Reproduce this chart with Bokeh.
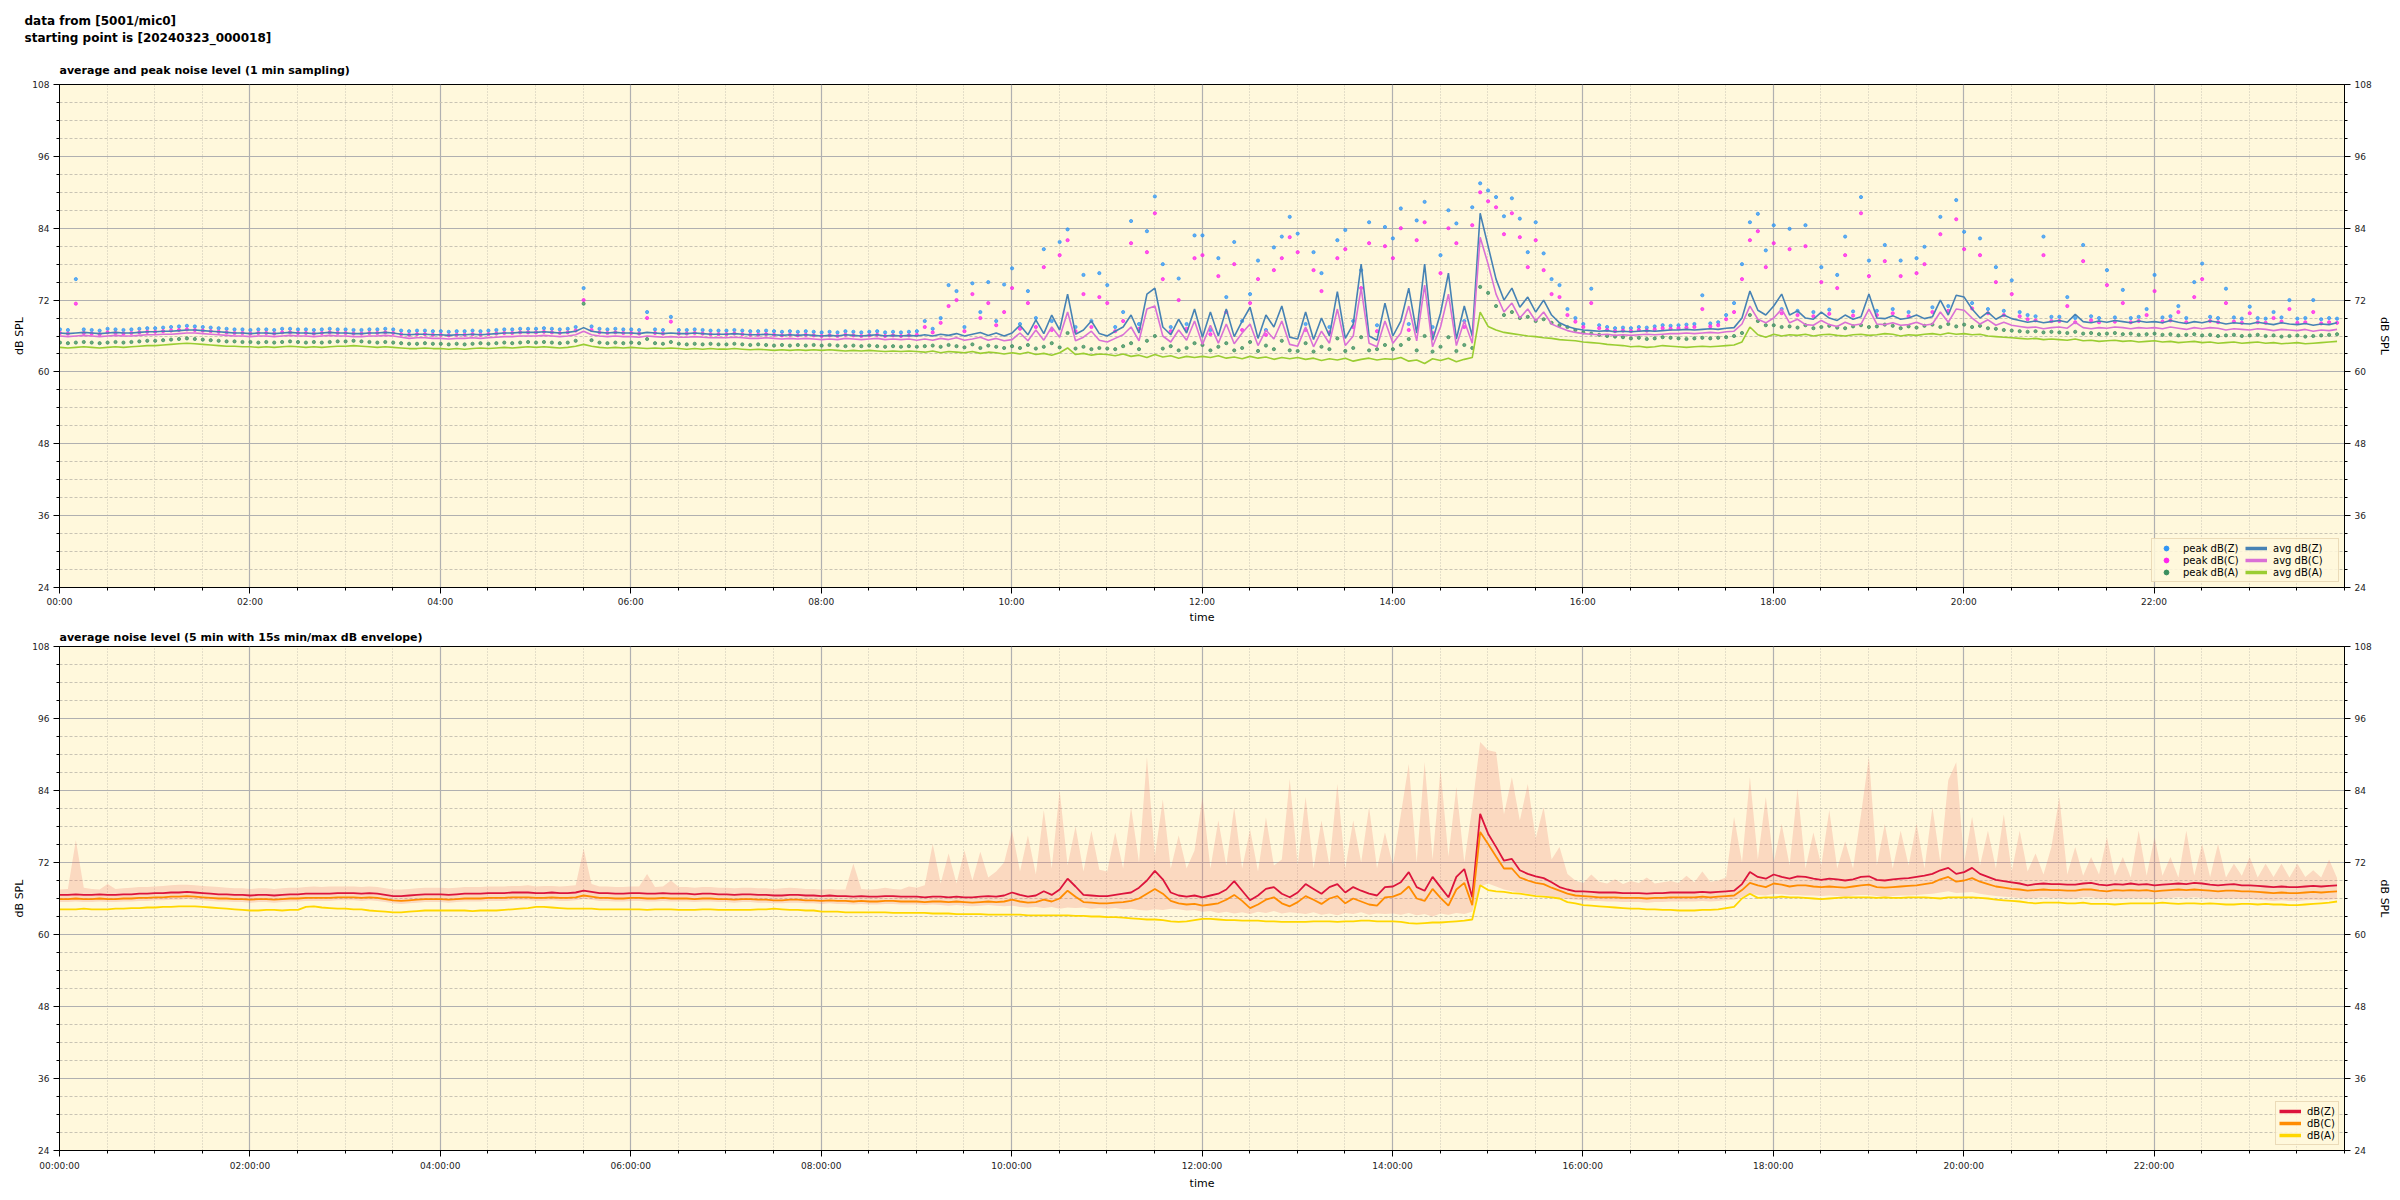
import numpy as np
from bokeh.plotting import figure
from bokeh.models import (FixedTicker, LinearAxis, Range1d, Title, Legend,
                          LegendItem)
from bokeh.layouts import column
from bokeh.embed import file_html
from bokeh.resources import INLINE

# ---------------- data (5-minute samples, 00:00:18 .. 23:55:18) ----------------
START_H = 18 / 3600.0
STEP_H = 5 / 60.0

SUPTITLE = "data from [5001/mic0]\nstarting point is [20240323_000018]"
TITLE_TOP = "average and peak noise level (1 min sampling)"
TITLE_BOTTOM = "average noise level (5 min with 15s min/max dB envelope)"

Y_TICKS = [24, 36, 48, 60, 72, 84, 96, 108]
X_TICKS_H = [0, 2, 4, 6, 8, 10, 12, 14, 16, 18, 20, 22]
X_LABELS_TOP = ["00:00", "02:00", "04:00", "06:00", "08:00", "10:00",
                "12:00", "14:00", "16:00", "18:00", "20:00", "22:00"]
X_LABELS_BOTTOM = ["00:00:00", "02:00:00", "04:00:00", "06:00:00", "08:00:00",
                   "10:00:00", "12:00:00", "14:00:00", "16:00:00", "18:00:00",
                   "20:00:00", "22:00:00"]

# top panel: 1-min averages / peaks (read at 5-min resolution)
avg_z = [
    66.5, 66.4, 66.5, 66.6, 66.5, 66.4, 66.5, 66.6, 66.5, 66.5, 66.6, 66.7,
    66.7, 66.8, 66.8, 66.9, 67.0, 67.0, 66.9, 66.8, 66.7, 66.6, 66.5, 66.5,
    66.4, 66.5, 66.5, 66.4, 66.5, 66.6, 66.5, 66.5, 66.4, 66.5, 66.6, 66.5,
    66.5, 66.4, 66.4, 66.5, 66.5, 66.6, 66.5, 66.3, 66.2, 66.3, 66.3, 66.2,
    66.2, 66.1, 66.2, 66.2, 66.3, 66.2, 66.3, 66.4, 66.5, 66.5, 66.6, 66.6,
    66.6, 66.7, 66.6, 66.5, 66.6, 66.8, 67.4, 66.8, 66.6, 66.5, 66.6, 66.5,
    66.5, 66.4, 66.6, 66.5, 66.4, 66.5, 66.4, 66.4, 66.5, 66.4, 66.3, 66.3,
    66.3, 66.4, 66.3, 66.2, 66.2, 66.3, 66.2, 66.1, 66.2, 66.1, 66.2, 66.1,
    66.0, 66.1, 66.0, 66.2, 66.1, 66.0, 66.1, 66.2, 66.0, 66.1, 66.0, 66.1,
    66.0, 66.2, 66.0, 66.3, 66.1, 66.4, 66.0, 66.3, 66.6, 66.1, 66.5, 66.0,
    66.5, 67.8, 66.2, 68.7, 66.4, 69.5, 67.0, 73.0, 66.3, 67.0, 68.5, 66.4,
    66.0, 66.8, 67.5, 69.5, 66.5, 73.0, 74.0, 67.5, 66.2, 68.8, 66.5, 70.5,
    65.8, 70.0, 66.0, 70.5, 65.9, 68.5, 70.8, 65.6, 69.5, 67.5, 71.0, 65.8,
    65.5, 70.0, 65.4, 69.0, 66.0, 73.4, 65.6, 68.0, 78.0, 66.0, 65.3, 71.5,
    66.0, 68.5, 74.0, 66.5, 78.0, 65.3, 69.8, 76.5, 65.5, 71.0, 66.0, 86.5,
    81.0, 75.5, 72.0, 74.0, 70.8, 72.5, 70.0, 72.0, 69.5, 68.2, 67.6, 67.2,
    67.0, 66.9, 66.8, 66.9, 66.7, 66.8, 66.7, 66.8, 66.9, 66.8, 66.9, 67.0,
    67.0, 67.1, 67.0, 67.1, 67.2, 67.1, 67.3, 67.4, 69.0, 73.5, 70.3, 69.5,
    71.0, 73.0, 69.5, 70.2, 69.0, 68.8, 70.0, 69.0, 68.6, 69.5, 68.8, 69.2,
    73.0, 69.0, 68.9, 69.4, 68.8, 69.0, 69.5, 68.9, 69.2, 72.0, 69.5, 72.8,
    72.5, 70.5, 69.0, 70.0, 68.8, 69.5, 68.9, 68.6, 68.3, 68.5, 68.2, 68.4,
    68.6, 68.3, 69.6, 68.4, 68.2, 68.5, 68.3, 68.6, 68.4, 68.2, 68.5, 68.3,
    68.4, 68.2, 68.6, 68.3, 68.1, 68.4, 68.2, 68.5, 68.3, 68.0, 68.2, 68.1,
    68.0, 68.3, 68.1, 67.9, 68.2, 68.0, 67.9, 68.1, 67.8, 68.0, 67.9, 68.2,
]
avg_c = [
    66.0, 65.9, 66.0, 66.1, 66.0, 65.9, 66.0, 66.1, 66.0, 66.0, 66.1, 66.2,
    66.2, 66.3, 66.3, 66.4, 66.5, 66.5, 66.4, 66.3, 66.2, 66.1, 66.0, 66.0,
    65.9, 66.0, 66.0, 65.9, 66.0, 66.1, 66.0, 66.0, 65.9, 66.0, 66.1, 66.0,
    66.0, 65.9, 65.9, 66.0, 66.0, 66.1, 66.0, 65.8, 65.6, 65.7, 65.7, 65.6,
    65.6, 65.5, 65.6, 65.6, 65.7, 65.6, 65.7, 65.8, 65.9, 65.9, 66.0, 66.0,
    66.0, 66.1, 66.0, 65.9, 66.0, 66.2, 66.8, 66.2, 66.0, 65.9, 66.0, 65.9,
    65.9, 65.8, 66.0, 65.9, 65.8, 65.9, 65.8, 65.8, 65.9, 65.8, 65.7, 65.7,
    65.7, 65.8, 65.7, 65.6, 65.6, 65.7, 65.6, 65.5, 65.6, 65.5, 65.6, 65.5,
    65.4, 65.5, 65.4, 65.6, 65.5, 65.4, 65.5, 65.6, 65.4, 65.5, 65.4, 65.5,
    65.3, 65.5, 65.3, 65.6, 65.4, 65.7, 65.3, 65.5, 65.8, 65.3, 65.6, 65.2,
    65.4, 66.5, 65.2, 67.0, 65.3, 67.5, 65.8, 70.0, 65.2, 65.8, 66.8, 65.3,
    65.0, 65.6, 66.2, 67.5, 65.2, 70.5, 71.0, 66.0, 65.0, 67.0, 65.3, 68.5,
    64.6, 67.8, 64.8, 68.0, 64.7, 66.5, 68.0, 64.4, 67.0, 65.5, 68.5, 64.6,
    64.3, 67.5, 64.2, 66.8, 64.8, 70.5, 64.4, 66.0, 74.0, 64.8, 64.2, 68.5,
    64.8, 66.5, 71.0, 65.2, 74.5, 64.2, 67.5, 73.0, 64.4, 68.5, 64.8, 82.5,
    78.0, 73.0, 70.0, 71.5, 69.0, 70.5, 68.5, 70.0, 68.0, 67.4, 66.9, 66.6,
    66.4, 66.3, 66.2, 66.3, 66.1, 66.2, 66.1, 66.2, 66.3, 66.2, 66.3, 66.4,
    66.4, 66.5, 66.4, 66.5, 66.6, 66.5, 66.7, 66.8, 68.0, 71.0, 68.8, 68.2,
    69.0, 70.5, 68.2, 68.8, 67.9, 67.8, 68.6, 67.9, 67.6, 68.3, 67.8, 68.0,
    70.5, 68.0, 67.9, 68.2, 67.8, 67.9, 68.3, 67.8, 68.0, 70.0, 68.3, 70.5,
    70.3, 69.0, 68.0, 68.7, 67.8, 68.3, 67.8, 67.6, 67.4, 67.5, 67.2, 67.4,
    67.5, 67.3, 68.3, 67.4, 67.2, 67.4, 67.3, 67.5, 67.4, 67.2, 67.4, 67.3,
    67.4, 67.2, 67.5, 67.3, 67.1, 67.4, 67.2, 67.4, 67.3, 67.0, 67.2, 67.1,
    67.0, 67.2, 67.1, 66.9, 67.1, 67.0, 66.9, 67.1, 66.8, 67.0, 66.9, 67.1,
]
avg_a = [
    64.1, 64.0, 64.1, 64.2, 64.1, 64.0, 64.1, 64.2, 64.1, 64.2, 64.3, 64.4,
    64.4, 64.5, 64.6, 64.7, 64.8, 64.7, 64.6, 64.5, 64.4, 64.3, 64.3, 64.2,
    64.2, 64.1, 64.2, 64.1, 64.2, 64.3, 64.2, 64.1, 64.2, 64.1, 64.2, 64.3,
    64.3, 64.4, 64.3, 64.2, 64.1, 64.2, 64.1, 64.0, 63.9, 63.9, 64.0, 63.9,
    63.9, 63.8, 63.9, 63.8, 63.9, 64.0, 63.9, 64.0, 64.1, 64.0, 64.1, 64.2,
    64.1, 64.2, 64.1, 64.0, 64.1, 64.3, 64.6, 64.3, 64.1, 64.0, 64.1, 64.0,
    64.1, 64.0, 63.9, 64.0, 63.9, 64.0, 63.9, 63.8, 63.9, 63.8, 63.9, 63.8,
    63.8, 63.9, 63.8, 63.7, 63.8, 63.7, 63.6, 63.7, 63.6, 63.7, 63.6, 63.7,
    63.6, 63.7, 63.6, 63.5, 63.6, 63.5, 63.6, 63.5, 63.4, 63.5, 63.4, 63.5,
    63.4, 63.3, 63.5, 63.2, 63.4, 63.3, 63.2, 63.4, 63.1, 63.3, 63.2, 63.0,
    63.2, 63.0, 63.3, 62.9, 63.1, 62.8, 63.2, 64.0, 62.9, 63.1, 62.8, 63.0,
    62.9, 62.7, 63.0, 62.6, 62.8, 62.4, 62.9, 62.5, 62.7, 62.3, 62.6, 62.4,
    62.6, 62.4, 62.7, 62.3, 62.5, 62.2, 62.6, 62.3, 62.5, 62.1, 62.4, 62.2,
    62.4, 62.1, 62.3, 61.9, 62.2, 62.0, 62.3, 61.8, 62.1, 62.3, 62.0, 62.2,
    62.1, 62.4, 61.8, 62.0, 61.4, 62.2, 61.9, 62.3, 61.7, 62.1, 62.4, 70.0,
    67.6, 67.0, 66.6, 66.4, 66.2, 66.0, 65.9, 65.7, 65.6, 65.4, 65.3, 65.2,
    65.0, 64.9, 64.8, 64.6, 64.5, 64.4, 64.2, 64.3, 64.1, 64.2, 64.4, 64.3,
    64.2, 64.1, 64.2, 64.3, 64.2, 64.3, 64.4, 64.5, 65.0, 67.5, 66.2, 65.8,
    66.3, 66.0, 66.2, 66.1, 66.3, 66.0, 66.2, 66.3, 66.1, 66.0, 66.2, 66.3,
    66.1, 66.2, 66.4, 66.3, 66.0, 66.2, 66.1, 66.3, 66.4, 66.2, 66.5, 66.3,
    66.4, 66.2, 66.3, 66.0, 65.9, 65.8, 65.7, 65.6, 65.5, 65.6, 65.4, 65.5,
    65.4, 65.3, 65.5, 65.2, 65.3, 65.1, 65.2, 65.3, 65.1, 65.2, 65.0, 65.1,
    65.2, 65.0, 65.1, 64.9, 65.0, 65.1, 64.9, 65.0, 64.8, 64.9, 65.0, 64.8,
    64.9, 65.0, 64.8, 64.9, 64.7, 64.8, 64.9, 64.7, 64.8, 64.9, 65.0, 65.1,
]
peak_z = [
    67.1, 67.0, 75.5, 67.1, 67.0, 66.9, 67.2, 67.1, 67.0, 67.1, 67.2, 67.3,
    67.3, 67.4, 67.5, 67.6, 67.7, 67.6, 67.5, 67.4, 67.3, 67.2, 67.1, 67.1,
    67.0, 67.1, 67.1, 67.0, 67.2, 67.2, 67.1, 67.1, 67.0, 67.1, 67.2, 67.1,
    67.1, 67.0, 67.0, 67.1, 67.1, 67.2, 67.1, 66.9, 66.8, 66.9, 66.9, 66.8,
    66.8, 66.7, 66.8, 66.8, 66.9, 66.8, 66.9, 67.0, 67.1, 67.1, 67.2, 67.2,
    67.2, 67.3, 67.2, 67.1, 67.2, 67.5, 74.0, 67.6, 67.2, 67.1, 67.2, 67.1,
    67.1, 67.0, 70.0, 67.1, 67.0, 69.2, 67.0, 67.0, 67.1, 67.0, 66.9, 66.9,
    66.9, 67.0, 66.9, 66.8, 66.8, 66.9, 66.8, 66.7, 66.8, 66.7, 66.8, 66.7,
    66.6, 66.7, 66.6, 66.8, 66.7, 66.6, 66.7, 66.8, 66.6, 66.7, 66.6, 66.7,
    66.8, 68.5, 67.2, 69.0, 74.5, 73.5, 67.5, 74.8, 70.0, 75.0, 68.5, 74.6,
    77.3, 68.0, 73.5, 69.0, 80.5, 68.5, 81.7, 83.8, 67.5, 76.2, 68.5, 76.5,
    74.5, 67.5, 70.0, 85.2, 68.0, 83.5, 89.3, 78.0, 67.5, 75.6, 68.0, 82.8,
    82.8, 67.0, 79.0, 72.5, 81.7, 68.5, 73.0, 78.6, 67.0, 80.8, 82.6, 85.9,
    83.1, 68.0, 80.0, 76.5, 67.5, 82.0, 83.7, 68.5, 77.0, 85.0, 67.8, 84.2,
    82.3, 87.3, 68.0, 85.3, 88.4, 67.5, 79.5, 87.0, 84.8, 68.5, 87.5, 91.5,
    90.3, 89.2, 86.0, 89.0, 85.6, 80.0, 85.0, 79.8, 75.5, 74.5, 70.5, 69.0,
    68.0, 73.9, 67.8, 67.5, 67.3, 67.4, 67.3, 67.5, 67.4, 67.6, 67.8, 67.7,
    67.8, 67.9, 68.0, 72.8, 68.1, 68.3, 69.5, 71.5, 78.0, 85.0, 86.4, 80.3,
    84.5, 70.5, 83.9, 70.2, 84.5, 70.0, 77.5, 70.4, 76.2, 82.6, 70.1, 89.2,
    78.6, 70.2, 81.2, 70.5, 78.6, 70.0, 79.0, 80.9, 70.8, 85.9, 71.0, 88.7,
    83.4, 71.5, 82.3, 70.5, 77.5, 70.2, 75.3, 70.0, 69.5, 69.3, 82.6, 69.2,
    69.2, 72.5, 69.0, 81.2, 69.3, 69.0, 77.0, 69.1, 73.7, 69.0, 69.2, 70.5,
    76.2, 69.1, 69.3, 71.0, 69.0, 75.0, 78.1, 69.2, 69.0, 73.9, 69.1, 68.9,
    70.9, 69.0, 68.9, 70.0, 69.1, 72.0, 68.9, 69.0, 72.0, 68.8, 69.0, 68.9,
]
peak_c = [
    66.5, 66.4, 71.4, 66.5, 66.4, 66.3, 66.6, 66.5, 66.4, 66.5, 66.6, 66.7,
    66.7, 66.8, 66.9, 67.0, 67.1, 67.0, 66.9, 66.8, 66.7, 66.6, 66.5, 66.5,
    66.4, 66.5, 66.5, 66.4, 66.6, 66.6, 66.5, 66.5, 66.4, 66.5, 66.6, 66.5,
    66.5, 66.4, 66.4, 66.5, 66.5, 66.6, 66.5, 66.3, 66.2, 66.3, 66.3, 66.2,
    66.2, 66.1, 66.2, 66.2, 66.3, 66.2, 66.3, 66.4, 66.5, 66.5, 66.6, 66.6,
    66.6, 66.7, 66.6, 66.5, 66.6, 66.9, 72.0, 67.0, 66.6, 66.5, 66.6, 66.5,
    66.5, 66.4, 69.0, 66.5, 66.4, 68.4, 66.4, 66.4, 66.5, 66.4, 66.3, 66.3,
    66.3, 66.4, 66.3, 66.2, 66.2, 66.3, 66.2, 66.1, 66.2, 66.1, 66.2, 66.1,
    66.0, 66.1, 66.0, 66.2, 66.1, 66.0, 66.1, 66.2, 66.0, 66.1, 66.0, 66.1,
    66.2, 67.5, 66.6, 68.2, 71.0, 72.0, 66.8, 73.0, 69.0, 71.5, 67.8, 70.0,
    74.0, 67.2, 71.5, 67.5, 77.5, 67.0, 79.5, 82.0, 66.8, 73.0, 67.5, 72.5,
    71.5, 66.8, 68.5, 81.5, 67.2, 80.0, 86.5, 75.5, 66.8, 72.0, 67.2, 79.0,
    79.5, 66.3, 76.0, 70.0, 78.0, 67.0, 71.5, 75.5, 66.2, 77.0, 79.0, 82.5,
    80.0, 67.0, 77.0, 73.5, 66.6, 79.0, 80.5, 67.5, 74.0, 81.5, 66.8, 81.0,
    79.0, 84.0, 67.0, 82.0, 85.0, 66.5, 76.5, 84.0, 81.5, 67.5, 84.5, 90.0,
    88.5, 87.5, 83.0, 86.5, 82.5, 77.5, 82.0, 77.0, 73.0, 72.5, 69.5, 68.4,
    67.5, 71.5, 67.3, 67.0, 66.8, 66.9, 66.8, 67.0, 66.9, 67.1, 67.3, 67.2,
    67.3, 67.4, 67.5, 70.5, 67.6, 67.8, 68.8, 70.0, 75.5, 82.0, 83.5, 77.5,
    81.5, 69.8, 80.5, 69.5, 81.0, 69.3, 75.0, 69.7, 74.0, 79.5, 69.4, 86.5,
    76.0, 69.5, 78.5, 69.8, 76.0, 69.3, 76.5, 78.0, 70.0, 83.0, 70.2, 85.5,
    80.5, 70.6, 79.5, 69.8, 75.0, 69.5, 73.0, 69.3, 68.8, 68.6, 79.5, 68.5,
    68.5, 71.0, 68.3, 78.5, 68.6, 68.3, 74.5, 68.4, 71.5, 68.3, 68.5, 69.5,
    73.5, 68.4, 68.6, 70.0, 68.3, 72.5, 75.5, 68.5, 68.3, 71.5, 68.4, 68.2,
    69.8, 68.3, 68.2, 69.0, 68.4, 70.5, 68.2, 68.3, 70.0, 68.1, 68.3, 68.2,
]
peak_a = [
    64.9, 64.8, 64.9, 65.0, 64.9, 64.8, 64.9, 65.0, 64.9, 65.0, 65.1, 65.2,
    65.2, 65.3, 65.4, 65.5, 65.6, 65.5, 65.4, 65.3, 65.2, 65.1, 65.1, 65.0,
    65.0, 64.9, 65.0, 64.9, 65.0, 65.1, 65.0, 64.9, 65.0, 64.9, 65.0, 65.1,
    65.1, 65.2, 65.1, 65.0, 64.9, 65.0, 64.9, 64.8, 64.7, 64.7, 64.8, 64.7,
    64.7, 64.6, 64.7, 64.6, 64.7, 64.8, 64.7, 64.8, 64.9, 64.8, 64.9, 65.0,
    64.9, 65.0, 64.9, 64.8, 64.9, 65.2, 71.4, 65.3, 64.9, 64.8, 64.9, 64.8,
    64.9, 64.8, 65.5, 64.8, 64.7, 65.0, 64.7, 64.6, 64.7, 64.6, 64.7, 64.6,
    64.6, 64.7, 64.6, 64.5, 64.6, 64.5, 64.4, 64.5, 64.4, 64.5, 64.4, 64.5,
    64.4, 64.5, 64.4, 64.3, 64.4, 64.3, 64.4, 64.3, 64.2, 64.3, 64.2, 64.3,
    64.2, 64.3, 64.4, 64.2, 64.5, 64.3, 64.1, 64.6, 64.0, 64.4, 64.2, 64.0,
    64.3, 64.0, 64.5, 63.9, 64.2, 64.8, 64.1, 66.5, 63.9, 64.2, 63.8, 64.0,
    63.9, 63.8, 64.3, 64.8, 63.8, 65.2, 66.0, 63.9, 64.3, 63.6, 64.0, 64.8,
    64.5, 63.6, 64.2, 64.8, 63.6, 64.0, 65.0, 63.5, 64.4, 63.8, 65.2, 63.6,
    63.5, 64.8, 63.4, 64.2, 63.8, 65.6, 63.5, 64.0, 65.8, 63.6, 63.8, 64.5,
    63.8, 64.5, 65.5, 63.6, 66.0, 63.4, 64.2, 65.8, 63.5, 64.5, 64.0, 74.2,
    73.2, 71.0, 69.5, 70.0, 69.0, 69.2, 68.5, 68.8, 68.2, 67.8, 67.5, 67.0,
    66.6, 66.4, 66.2, 66.0, 65.9, 65.8, 65.6, 65.7, 65.5, 65.6, 65.8, 65.7,
    65.6, 65.5, 65.6, 65.7, 65.6, 65.7, 65.8, 66.0, 66.5, 69.5, 68.5, 67.8,
    67.8, 67.5, 67.6, 67.4, 67.8, 67.3, 67.5, 67.7, 67.4, 67.3, 67.6, 67.8,
    67.5, 67.6, 67.9, 67.7, 67.3, 67.6, 67.4, 67.7, 67.9, 67.5, 68.0, 67.6,
    67.9, 67.5, 67.7, 67.3, 67.2, 67.0, 66.9, 66.8, 66.7, 66.8, 66.6, 66.7,
    66.6, 66.5, 66.7, 66.4, 66.5, 66.3, 66.4, 66.5, 66.3, 66.4, 66.2, 66.3,
    66.4, 66.2, 66.3, 66.1, 66.2, 66.3, 66.1, 66.2, 66.0, 66.1, 66.2, 66.0,
    66.1, 66.2, 66.0, 66.1, 65.9, 66.0, 66.1, 65.9, 66.0, 66.1, 66.2, 66.3,
]

# bottom panel: 5-min averages and 15 s min/max envelope
db_z = [
    66.6, 66.6, 66.7, 66.6, 66.6, 66.7, 66.6, 66.6, 66.7, 66.7, 66.8, 66.8,
    66.9, 66.9, 67.0, 67.0, 67.1, 67.0, 66.9, 66.8, 66.7, 66.7, 66.6, 66.6,
    66.5, 66.6, 66.6, 66.5, 66.6, 66.7, 66.7, 66.8, 66.8, 66.8, 66.8, 66.9,
    66.9, 66.9, 66.8, 66.9, 66.8, 66.6, 66.4, 66.4, 66.5, 66.6, 66.7, 66.7,
    66.7, 66.6, 66.7, 66.8, 66.8, 66.8, 66.9, 66.9, 66.9, 67.0, 67.0, 67.0,
    66.9, 66.9, 67.0, 66.9, 66.9, 67.0, 67.3, 67.1, 66.9, 66.9, 66.8, 66.8,
    66.9, 66.9, 66.8, 66.8, 66.9, 66.8, 66.8, 66.8, 66.7, 66.8, 66.8, 66.7,
    66.7, 66.6, 66.7, 66.7, 66.6, 66.6, 66.5, 66.5, 66.6, 66.6, 66.5, 66.5,
    66.4, 66.5, 66.4, 66.4, 66.3, 66.4, 66.3, 66.3, 66.4, 66.4, 66.3, 66.3,
    66.3, 66.2, 66.3, 66.3, 66.2, 66.3, 66.2, 66.2, 66.3, 66.4, 66.3, 66.5,
    67.0, 66.6, 66.3, 66.5, 67.2, 66.6, 67.5, 69.3, 68.0, 66.6, 66.5, 66.4,
    66.4, 66.6, 66.8, 67.0, 67.8, 69.0, 70.6, 69.2, 67.0, 66.5, 66.3, 66.5,
    66.2, 66.5, 66.8, 67.5, 68.9, 67.3, 65.7, 66.5, 67.6, 67.9, 66.8, 66.2,
    67.0, 68.4, 67.6, 66.8, 67.9, 68.4, 67.0, 67.9, 67.3, 66.8, 66.5, 67.9,
    68.0, 68.7, 70.4, 67.9, 67.3, 69.6, 67.9, 66.2, 69.6, 70.9, 66.2, 80.1,
    76.8, 74.6, 72.3, 72.6, 70.7, 70.1, 69.7, 69.4, 68.7, 67.9, 67.5, 67.2,
    67.2, 67.1, 67.0, 67.0, 67.0, 66.9, 66.9, 66.9, 66.8, 66.9, 66.9, 67.0,
    67.0, 67.0, 67.0, 67.1, 67.0, 67.1, 67.2, 67.3, 68.4, 70.4, 69.6, 69.3,
    70.0, 69.6, 69.3, 69.7, 69.6, 69.3, 69.1, 69.3, 69.2, 69.0, 69.2, 69.6,
    69.7, 69.1, 69.0, 69.2, 69.3, 69.4, 69.6, 69.8, 70.1, 70.7, 71.1, 70.1,
    70.4, 71.1, 70.1, 69.6, 69.1, 68.9, 68.7, 68.5, 68.2, 68.4, 68.5, 68.4,
    68.4, 68.3, 68.3, 68.5, 68.6, 68.3, 68.2, 68.4, 68.3, 68.5, 68.3, 68.4,
    68.2, 68.3, 68.4, 68.5, 68.4, 68.6, 68.5, 68.3, 68.2, 68.3, 68.4, 68.2,
    68.2, 68.1, 68.0, 67.9, 68.0, 67.9, 67.9, 68.0, 68.1, 68.0, 68.1, 68.2,
]
db_c = [
    65.9, 65.9, 66.0, 65.9, 65.9, 66.0, 65.9, 65.9, 66.0, 66.0, 66.1, 66.1,
    66.2, 66.2, 66.3, 66.3, 66.4, 66.3, 66.2, 66.1, 66.0, 66.0, 65.9, 65.9,
    65.8, 65.9, 65.9, 65.8, 65.9, 66.0, 66.0, 66.1, 66.1, 66.1, 66.1, 66.2,
    66.2, 66.2, 66.1, 66.2, 66.1, 65.9, 65.7, 65.6, 65.7, 65.8, 65.9, 65.9,
    65.9, 65.8, 65.9, 66.0, 66.0, 66.0, 66.1, 66.1, 66.1, 66.2, 66.2, 66.2,
    66.1, 66.1, 66.2, 66.1, 66.1, 66.2, 66.5, 66.3, 66.1, 66.1, 66.0, 66.0,
    66.1, 66.1, 66.0, 66.0, 66.1, 66.0, 66.0, 66.0, 65.9, 66.0, 66.0, 65.9,
    65.9, 65.8, 65.9, 65.9, 65.8, 65.8, 65.7, 65.7, 65.8, 65.8, 65.7, 65.7,
    65.6, 65.7, 65.6, 65.6, 65.5, 65.6, 65.5, 65.5, 65.6, 65.6, 65.5, 65.5,
    65.5, 65.4, 65.5, 65.5, 65.4, 65.5, 65.4, 65.3, 65.4, 65.5, 65.4, 65.5,
    65.8, 65.5, 65.3, 65.4, 65.8, 65.5, 66.0, 67.3, 66.3, 65.4, 65.3, 65.2,
    65.2, 65.3, 65.4, 65.6, 66.0, 66.8, 67.6, 66.8, 65.6, 65.2, 65.0, 65.1,
    64.8, 65.0, 65.2, 65.8, 66.6, 65.6, 64.4, 65.0, 65.8, 66.2, 65.2, 64.7,
    65.4, 66.4, 65.8, 65.1, 66.0, 66.4, 65.2, 66.0, 65.5, 65.0, 64.8, 66.2,
    66.3, 66.8, 68.0, 66.0, 65.6, 67.6, 66.1, 64.8, 67.5, 68.6, 64.9, 77.1,
    75.1, 73.0, 71.0, 71.0, 69.5, 69.0, 68.6, 68.4, 67.8, 67.3, 66.8, 66.5,
    66.4, 66.3, 66.2, 66.2, 66.2, 66.1, 66.1, 66.1, 66.0, 66.1, 66.1, 66.2,
    66.2, 66.2, 66.2, 66.3, 66.2, 66.3, 66.4, 66.5, 67.4, 68.6, 68.2, 67.9,
    68.5, 68.3, 68.0, 68.2, 68.2, 68.0, 67.9, 68.0, 67.9, 67.8, 68.0, 68.2,
    68.3, 67.9, 67.8, 67.9, 68.0, 68.1, 68.2, 68.4, 68.6, 69.2, 69.6, 68.8,
    69.0, 69.4, 68.8, 68.4, 68.0, 67.8, 67.6, 67.5, 67.3, 67.4, 67.5, 67.4,
    67.4, 67.3, 67.3, 67.5, 67.5, 67.3, 67.2, 67.4, 67.3, 67.4, 67.3, 67.4,
    67.2, 67.3, 67.4, 67.5, 67.4, 67.5, 67.4, 67.3, 67.2, 67.3, 67.3, 67.2,
    67.2, 67.1, 67.0, 66.9, 67.0, 66.9, 66.9, 67.0, 67.1, 67.0, 67.1, 67.2,
]
db_a = [
    64.2, 64.2, 64.2, 64.3, 64.2, 64.2, 64.2, 64.3, 64.3, 64.4, 64.4, 64.5,
    64.5, 64.6, 64.6, 64.7, 64.7, 64.7, 64.6, 64.5, 64.4, 64.3, 64.2, 64.1,
    64.0, 64.0, 64.1, 64.1, 64.0, 64.1, 64.1, 64.6, 64.7, 64.5, 64.4, 64.3,
    64.3, 64.2, 64.2, 64.0, 63.9, 63.8, 63.7, 63.7, 63.8, 63.9, 64.0, 64.0,
    64.0, 64.0, 64.0, 64.0, 63.9, 64.0, 64.0, 64.0, 64.1, 64.2, 64.3, 64.4,
    64.6, 64.6, 64.5, 64.4, 64.3, 64.3, 64.3, 64.3, 64.2, 64.2, 64.2, 64.2,
    64.2, 64.2, 64.1, 64.2, 64.2, 64.2, 64.1, 64.1, 64.1, 64.2, 64.2, 64.1,
    64.1, 64.1, 64.1, 64.1, 64.2, 64.2, 64.3, 64.2, 64.1, 64.1, 64.0, 64.0,
    63.8, 63.8, 63.8, 63.7, 63.7, 63.7, 63.7, 63.7, 63.7, 63.6, 63.6, 63.6,
    63.6, 63.6, 63.5, 63.5, 63.5, 63.4, 63.4, 63.4, 63.4, 63.3, 63.3, 63.3,
    63.3, 63.3, 63.2, 63.2, 63.2, 63.2, 63.2, 63.2, 63.1, 63.1, 63.0, 63.0,
    62.9, 62.9, 62.8, 62.7, 62.6, 62.5, 62.5, 62.4, 62.2, 62.1, 62.2, 62.4,
    62.6, 62.6, 62.5, 62.4, 62.4, 62.3, 62.3, 62.3, 62.2, 62.2, 62.1, 62.1,
    62.1, 62.1, 62.2, 62.2, 62.2, 62.1, 62.2, 62.2, 62.3, 62.3, 62.2, 62.2,
    62.2, 62.1, 61.9, 61.8, 61.9, 62.0, 62.0, 62.1, 62.2, 62.3, 62.5, 68.2,
    67.4, 67.2, 67.1, 66.9, 66.8, 66.6, 66.4, 66.3, 66.2, 66.0, 65.4, 65.2,
    64.9, 64.8, 64.7, 64.6, 64.5, 64.4, 64.3, 64.3, 64.2, 64.2, 64.1, 64.1,
    64.0, 64.0, 64.0, 64.1, 64.1, 64.2, 64.4, 64.6, 66.0, 66.8, 66.1, 66.2,
    66.2, 66.3, 66.2, 66.2, 66.1, 66.0, 65.9, 66.0, 66.1, 66.2, 66.2, 66.2,
    66.2, 66.1, 66.2, 66.1, 66.1, 66.2, 66.2, 66.2, 66.1, 66.0, 66.2, 66.2,
    66.2, 66.2, 66.1, 66.0, 65.8, 65.7, 65.6, 65.5, 65.3, 65.2, 65.3, 65.3,
    65.3, 65.2, 65.2, 65.3, 65.1, 65.1, 65.1, 65.0, 65.1, 65.2, 65.2, 65.2,
    65.2, 65.3, 65.2, 65.1, 65.2, 65.2, 65.1, 65.2, 65.1, 65.0, 65.0, 65.1,
    65.1, 65.0, 65.1, 65.0, 65.0, 64.9, 64.9, 65.0, 65.1, 65.2, 65.3, 65.5,
]
env_max = [
    67.5, 67.6, 75.7, 67.8, 67.6, 67.5, 68.4, 67.6, 67.7, 67.8, 67.9, 67.9,
    68.0, 68.1, 68.2, 68.3, 68.3, 68.2, 68.1, 68.0, 67.9, 67.8, 67.7, 67.7,
    67.6, 67.7, 67.7, 67.6, 67.7, 67.8, 67.8, 67.9, 68.0, 67.9, 68.0, 68.0,
    68.0, 68.0, 67.9, 68.0, 67.9, 67.7, 67.5, 67.5, 67.6, 67.7, 67.8, 67.8,
    67.8, 67.7, 67.8, 67.9, 67.9, 67.9, 68.0, 68.0, 68.0, 68.1, 68.1, 68.2,
    68.0, 68.1, 68.1, 68.0, 68.1, 68.2, 74.3, 68.4, 68.0, 68.0, 67.9, 67.9,
    68.0, 68.0, 70.1, 67.9, 68.0, 69.0, 67.9, 67.9, 67.8, 67.9, 67.9, 67.8,
    67.8, 67.7, 67.8, 67.8, 67.7, 67.7, 67.6, 67.7, 67.8, 67.7, 67.6, 67.6,
    67.5, 67.6, 67.5, 67.5, 71.8, 67.6, 67.5, 67.6, 67.8, 67.6, 67.5, 68.0,
    67.8, 68.2, 75.1, 68.5, 73.5, 68.5, 74.0, 69.0, 73.8, 69.5, 70.5, 72.0,
    77.3, 70.5, 76.5, 70.0, 80.7, 71.0, 84.0, 71.5, 78.0, 70.5, 77.3, 70.8,
    70.5, 77.0, 71.0, 81.2, 72.0, 89.6, 73.0, 82.5, 71.0, 76.5, 71.0, 74.0,
    82.9, 71.0, 79.0, 71.5, 81.2, 71.0, 77.5, 70.5, 79.5, 71.5, 72.5, 85.9,
    71.5, 82.9, 71.0, 79.0, 71.5, 85.1, 71.0, 79.0, 72.0, 81.2, 71.0, 77.0,
    71.5, 80.0, 88.4, 72.0, 88.7, 72.5, 87.5, 73.0, 84.6, 72.0, 81.2, 92.1,
    90.7, 90.4, 80.0, 86.2, 79.0, 85.1, 76.0, 81.2, 72.5, 74.6, 70.1, 69.0,
    68.6, 70.0, 68.8, 68.5, 69.2, 68.4, 68.9, 68.6, 69.5, 68.5, 68.7, 68.9,
    68.6, 69.8, 68.7, 70.5, 68.8, 69.0, 69.5, 79.6, 72.0, 86.2, 72.5, 82.9,
    72.0, 78.4, 71.5, 84.3, 71.0, 77.0, 71.5, 80.7, 71.0, 75.5, 71.0, 80.0,
    89.6, 71.5, 78.4, 71.0, 77.3, 71.5, 78.5, 71.0, 81.2, 72.0, 85.7, 88.7,
    72.0, 79.6, 71.5, 77.3, 71.0, 80.0, 70.5, 77.3, 70.5, 73.5, 70.0, 74.6,
    82.9, 70.0, 74.6, 69.8, 72.9, 70.0, 76.2, 69.8, 72.9, 69.5, 77.3, 69.8,
    76.2, 69.8, 72.9, 69.5, 77.3, 69.8, 75.1, 69.6, 75.1, 69.5, 71.8, 69.8,
    72.9, 69.5, 71.8, 69.6, 71.8, 69.5, 71.8, 69.6, 70.7, 69.5, 72.5, 69.4,
]
env_min = [
    65.4, 65.4, 65.5, 65.4, 65.4, 65.5, 65.4, 65.4, 65.5, 65.5, 65.6, 65.6,
    65.7, 65.7, 65.8, 65.8, 65.9, 65.8, 65.7, 65.6, 65.5, 65.5, 65.4, 65.4,
    65.3, 65.4, 65.4, 65.3, 65.4, 65.5, 65.5, 65.6, 65.6, 65.6, 65.6, 65.7,
    65.7, 65.7, 65.6, 65.7, 65.6, 65.4, 65.2, 65.1, 65.2, 65.3, 65.4, 65.4,
    65.4, 65.3, 65.4, 65.5, 65.5, 65.5, 65.6, 65.6, 65.6, 65.7, 65.7, 65.7,
    65.6, 65.6, 65.7, 65.6, 65.6, 65.7, 65.9, 65.8, 65.6, 65.6, 65.5, 65.5,
    65.6, 65.6, 65.5, 65.5, 65.6, 65.5, 65.5, 65.5, 65.4, 65.5, 65.5, 65.4,
    65.4, 65.3, 65.4, 65.4, 65.3, 65.3, 65.2, 65.2, 65.3, 65.3, 65.2, 65.2,
    65.1, 65.2, 65.1, 65.1, 65.0, 65.1, 65.0, 65.0, 65.1, 65.1, 65.0, 65.0,
    65.0, 64.9, 65.0, 64.9, 64.8, 64.9, 64.8, 64.7, 64.8, 64.9, 64.8, 64.7,
    64.8, 64.6, 64.5, 64.6, 64.4, 64.6, 64.3, 64.5, 64.4, 64.5, 64.3, 64.4,
    64.3, 64.4, 64.2, 64.3, 64.1, 64.0, 64.2, 64.1, 64.3, 64.2, 64.0, 64.1,
    63.8, 63.9, 63.6, 63.8, 63.5, 63.7, 63.4, 63.8, 63.6, 63.9, 63.5, 63.7,
    63.6, 63.4, 63.7, 63.3, 63.5, 63.2, 63.6, 63.4, 63.7, 63.3, 63.5, 63.4,
    63.5, 63.3, 63.6, 63.2, 63.4, 63.0, 63.5, 63.3, 63.6, 63.4, 63.8, 68.0,
    68.5, 68.0, 67.5, 67.2, 67.0, 66.8, 66.6, 66.5, 66.3, 66.1, 65.9, 65.8,
    65.7, 65.6, 65.6, 65.5, 65.5, 65.4, 65.4, 65.4, 65.3, 65.4, 65.4, 65.5,
    65.5, 65.5, 65.5, 65.6, 65.5, 65.6, 65.7, 65.8, 66.2, 66.8, 66.6, 66.5,
    66.8, 66.7, 66.6, 66.6, 66.5, 66.5, 66.4, 66.5, 66.4, 66.3, 66.5, 66.6,
    66.6, 66.4, 66.3, 66.4, 66.5, 66.5, 66.6, 66.7, 66.8, 67.0, 67.2, 66.9,
    67.0, 67.1, 66.8, 66.6, 66.4, 66.3, 66.2, 66.1, 66.0, 66.1, 66.2, 66.1,
    66.1, 66.0, 66.0, 66.2, 66.2, 66.0, 65.9, 66.1, 66.0, 66.1, 66.0, 66.1,
    65.9, 66.0, 66.1, 66.2, 66.1, 66.2, 66.1, 66.0, 65.9, 66.0, 66.0, 65.9,
    65.9, 65.8, 65.7, 65.6, 65.7, 65.6, 65.6, 65.7, 65.8, 65.7, 65.8, 65.9,
]

for arr in (avg_z, avg_c, avg_a, peak_z, peak_c, peak_a,
            db_z, db_c, db_a, env_max, env_min):
    assert len(arr) == 288, len(arr)

t = START_H + np.arange(288) * STEP_H

# ---------------- styling ----------------
BG = "#fff8dc"
FONT = "DejaVu Sans"
MAJOR_GRID = "#b0b0b0"
MINOR_GRID = "#c9c4b4"
W = 2396
BL, BR = 59, 52
TOP_H = 626
BOT_H = 1196 - TOP_H

y_ticker = FixedTicker(ticks=Y_TICKS, minor_ticks=list(range(24, 109, 3)))
x_ticker = FixedTicker(ticks=X_TICKS_H, minor_ticks=[i * 0.5 for i in range(49)])


def style_axis(ax, label, label_standoff=4, title_standoff=3):
    ax.axis_label = label
    ax.axis_label_text_font = FONT
    ax.axis_label_text_font_size = "11px"
    ax.axis_label_text_font_style = "normal"
    ax.axis_label_text_color = "#000000"
    ax.axis_label_standoff = title_standoff
    ax.major_label_text_font = FONT
    ax.major_label_text_font_size = "9px"
    ax.major_label_text_color = "#222222"
    ax.major_label_standoff = label_standoff
    ax.axis_line_color = "black"
    ax.major_tick_line_color = "black"
    ax.minor_tick_line_color = "black"
    ax.major_tick_out = 6
    ax.major_tick_in = 0
    ax.minor_tick_out = 3
    ax.minor_tick_in = 0


def make_fig(height, btop, bbot, xlabels, x_lab_standoff, x_title_standoff):
    p = figure(width=W, height=height, x_range=Range1d(0, 24),
               y_range=Range1d(24, 108), output_backend="svg", title=None,
               toolbar_location=None, min_border_left=BL, min_border_right=BR,
               min_border_top=btop, min_border_bottom=bbot,
               background_fill_color=BG, border_fill_color="white")
    p.outline_line_color = "black"
    p.outline_line_width = 1
    p.xaxis.ticker = x_ticker
    p.yaxis.ticker = y_ticker
    p.xaxis.major_label_overrides = {h: s for h, s in zip(X_TICKS_H, xlabels)}
    style_axis(p.xaxis[0], "time", x_lab_standoff, x_title_standoff)
    style_axis(p.yaxis[0], "dB SPL")
    ry = LinearAxis(ticker=y_ticker)
    style_axis(ry, "dB SPL")
    p.add_layout(ry, "right")
    p.xgrid.ticker = x_ticker
    p.ygrid.ticker = y_ticker
    for g in (p.xgrid[0], p.ygrid[0]):
        g.grid_line_color = MAJOR_GRID
        g.grid_line_width = 1.2
        g.minor_grid_line_color = MINOR_GRID
        g.minor_grid_line_width = 1
    p.xgrid.minor_grid_line_dash = "1 2"
    p.ygrid.minor_grid_line_dash = "3 2"
    return p


def style_legend(lg, label_width):
    lg.location = "bottom_right"
    lg.margin = 5
    lg.padding = 3
    lg.spacing = 0
    lg.label_text_font = FONT
    lg.label_text_font_size = "10px"
    lg.label_text_color = "#000000"
    lg.label_height = 12
    lg.label_width = label_width
    lg.glyph_height = 12
    lg.glyph_width = 22
    lg.label_standoff = 6
    lg.background_fill_color = BG
    lg.background_fill_alpha = 0.85
    lg.border_line_color = "#d8bd94"
    lg.border_line_width = 1.5


def sub_title(text, standoff):
    return Title(text=text, text_font=FONT, text_font_size="11px",
                 text_font_style="bold", text_color="#000000", align="left",
                 offset=0, standoff=standoff)


# legend swatches live outside the visible ranges
OFF_X = [-10, -9]
OFF_Y = [0, 0]

# ---------------- top figure ----------------
top = make_fig(TOP_H, 84, TOP_H - 588, X_LABELS_TOP, 3, 1)
top.add_layout(sub_title(TITLE_TOP, 15), "above")
top.add_layout(Title(text=SUPTITLE, text_font=FONT, text_font_size="12px",
                     text_font_style="bold", text_color="#000000",
                     text_line_height=1.2, align="left", offset=-35,
                     standoff=19), "above")

pk_cols = {"z": "#2f95f5", "c": "#ff22ee", "a": "#3b8f5f"}
av_cols = {"z": "#4682b4", "c": "#da70d6", "a": "#9acd32"}

top.scatter(t, peak_z, size=3.2, color=pk_cols["z"], alpha=0.75, marker="circle")
top.scatter(t, peak_c, size=3.2, color=pk_cols["c"], alpha=0.75, marker="circle")
top.scatter(t, peak_a, size=3.2, color=pk_cols["a"], alpha=0.75, marker="circle")
top.line(t, avg_z, line_color=av_cols["z"], line_width=1.6)
top.line(t, avg_c, line_color=av_cols["c"], line_width=1.6)
top.line(t, avg_a, line_color=av_cols["a"], line_width=1.6)

lg_pz = top.scatter(OFF_X, OFF_Y, size=5, color=pk_cols["z"], marker="circle")
lg_pc = top.scatter(OFF_X, OFF_Y, size=5, color=pk_cols["c"], marker="circle")
lg_pa = top.scatter(OFF_X, OFF_Y, size=5, color=pk_cols["a"], marker="circle")
lg_az = top.line(OFF_X, OFF_Y, line_color=av_cols["z"], line_width=3.5)
lg_ac = top.line(OFF_X, OFF_Y, line_color=av_cols["c"], line_width=3.5)
lg_aa = top.line(OFF_X, OFF_Y, line_color=av_cols["a"], line_width=3.5)
leg_top = Legend(items=[
    LegendItem(label="peak dB(Z)", renderers=[lg_pz]),
    LegendItem(label="peak dB(C)", renderers=[lg_pc]),
    LegendItem(label="peak dB(A)", renderers=[lg_pa]),
    LegendItem(label="avg dB(Z)", renderers=[lg_az]),
    LegendItem(label="avg dB(C)", renderers=[lg_ac]),
    LegendItem(label="avg dB(A)", renderers=[lg_aa]),
], ncols=2)
style_legend(leg_top, 62)
top.add_layout(leg_top)

# ---------------- bottom figure ----------------
bot = make_fig(BOT_H, 646 - TOP_H, BOT_H - (1150 - TOP_H), X_LABELS_BOTTOM, 4, 3)
bot.add_layout(sub_title(TITLE_BOTTOM, 5), "above")

ln_cols = {"z": "#dc143c", "c": "#ff8c00", "a": "#ffd700"}
bot.varea(x=t, y1=env_min, y2=env_max, fill_color="#f08070", fill_alpha=0.26)
bot.line(t, db_z, line_color=ln_cols["z"], line_width=1.8)
bot.line(t, db_c, line_color=ln_cols["c"], line_width=1.8)
bot.line(t, db_a, line_color=ln_cols["a"], line_width=1.8)
lg_z = bot.line(OFF_X, OFF_Y, line_color=ln_cols["z"], line_width=3.5)
lg_c = bot.line(OFF_X, OFF_Y, line_color=ln_cols["c"], line_width=3.5)
lg_a = bot.line(OFF_X, OFF_Y, line_color=ln_cols["a"], line_width=3.5)
leg_bot = Legend(items=[
    LegendItem(label="dB(Z)", renderers=[lg_z]),
    LegendItem(label="dB(C)", renderers=[lg_c]),
    LegendItem(label="dB(A)", renderers=[lg_a]),
])
style_legend(leg_bot, 20)
bot.add_layout(leg_bot)

layout = column(top, bot, spacing=0)
open("out.html", "w").write(file_html(layout, INLINE))
